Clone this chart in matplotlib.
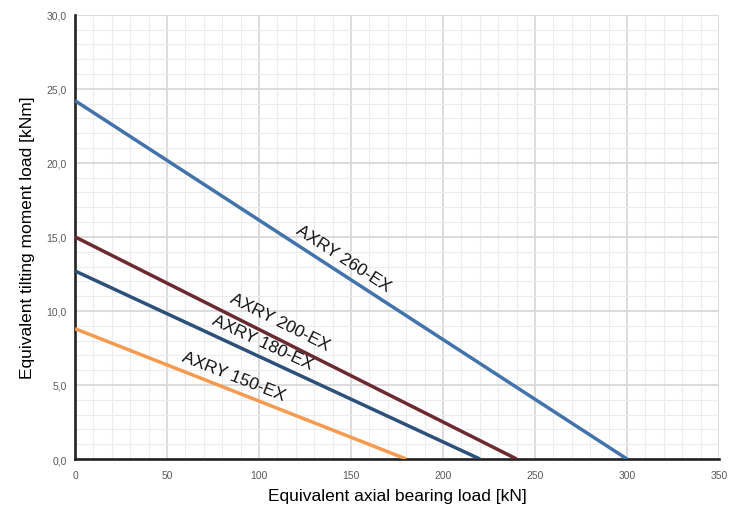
import matplotlib

matplotlib.use("Agg")
import matplotlib.pyplot as plt  # noqa: E402
import numpy as np  # noqa: E402
from matplotlib.ticker import FuncFormatter, MultipleLocator  # noqa: E402

# bearing series: moment load at zero axial load, axial load at zero moment
series_names = ["AXRY 260-EX", "AXRY 200-EX", "AXRY 180-EX", "AXRY 150-EX"]
moment_at_zero = [24.2, 15.0, 12.7, 8.8]       # kNm
axial_at_zero = [300.0, 240.0, 220.0, 180.0]   # kN
series_colors = ["#4273ab", "#6b2a2f", "#2c5079", "#f69a4f"]
# label anchor (axial load) and offset above the line (kNm)
label_x = [145.7, 111.4, 101.6, 85.9]
label_dy = [1.1, 1.25, 1.1, 1.0]

plt.rcParams.update({
    "font.family": ["Liberation Sans", "DejaVu Sans"],
})

fig = plt.figure(figsize=(7.36, 5.10), dpi=100)
ax = fig.add_axes([0.102, 0.098, 0.875, 0.871])

ax.set_xlim(0, 350)
ax.set_ylim(0, 30)
ax.xaxis.set_major_locator(MultipleLocator(50))
ax.xaxis.set_minor_locator(MultipleLocator(10))
ax.yaxis.set_major_locator(MultipleLocator(5))
ax.yaxis.set_minor_locator(MultipleLocator(1))
ax.grid(which="major", color="#d9d9d9", lw=1.3)
ax.grid(which="minor", color="#ececec", lw=0.8)
ax.set_axisbelow(True)

ax.yaxis.set_major_formatter(FuncFormatter(lambda v, p: f"{v:.1f}".replace(".", ",")))
ax.tick_params(which="both", length=0, labelsize=7.5, colors="#5a5a5a")
ax.tick_params(axis="x", pad=8)
ax.tick_params(axis="y", pad=6)

for side in ("top", "right"):
    ax.spines[side].set_visible(False)
for side in ("left", "bottom"):
    ax.spines[side].set_color("#222222")
    ax.spines[side].set_linewidth(1.9)

for name, y0, x0, col, lx, dy in zip(series_names, moment_at_zero, axial_at_zero,
                                      series_colors, label_x, label_dy):
    ax.plot([0, x0], [y0, 0], color=col, lw=2.5, solid_capstyle="butt", zorder=3)
    # angle of the line as drawn on screen
    p0 = ax.transData.transform((0, y0))
    p1 = ax.transData.transform((x0, 0))
    angle = np.degrees(np.arctan2(p1[1] - p0[1], p1[0] - p0[0]))
    ly = y0 * (1 - lx / x0) + dy
    ax.text(lx, ly, name, rotation=angle, rotation_mode="anchor",
            ha="center", va="center", fontsize=12.5, color="#111111", zorder=4)

ax.set_xlabel("Equivalent axial bearing load [kN]", fontsize=12.5, labelpad=6)
ax.set_ylabel("Equivalent tilting moment load [kNm]", fontsize=12.5, labelpad=8)

fig.savefig("out.png", dpi=100)
plt.close(fig)
